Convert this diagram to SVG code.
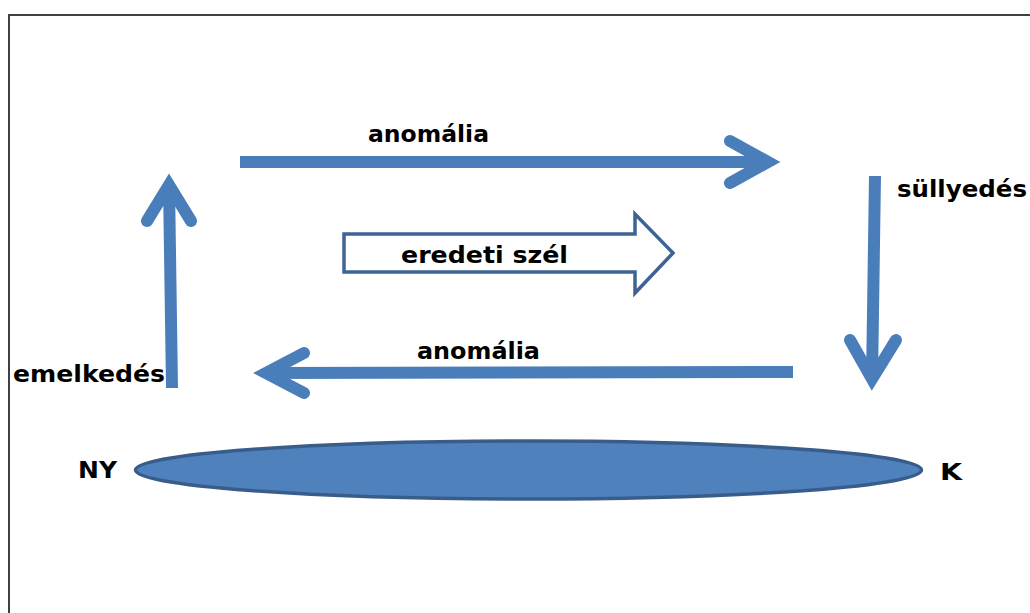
<svg xmlns="http://www.w3.org/2000/svg" width="1030" height="613" viewBox="0 0 1030 613">
<style>
.lbl{font-family:"DejaVu Sans",Verdana,sans-serif;font-weight:bold;font-size:23px;fill:#000}
.shaft{stroke:#4a7ebb;stroke-width:12;fill:none;stroke-linecap:butt}
.head{stroke:#4a7ebb;stroke-width:12;fill:none;stroke-linecap:round;stroke-linejoin:miter;stroke-miterlimit:10}
</style>
<rect width="1030" height="613" fill="#fff"/>
<rect x="9" y="15" width="1040" height="620" fill="none" stroke="#404040" stroke-width="2"/>
<g id="connectors">
  <g id="top-arrow">
    <line class="shaft" x1="240" y1="162" x2="768" y2="162"/>
    <polyline class="head" points="730,141 768,162 730,183"/>
  </g>
  <g id="right-arrow">
    <line class="shaft" x1="875" y1="176" x2="872" y2="380"/>
    <polyline class="head" points="850,340 872,379 896,340"/>
  </g>
  <g id="bottom-arrow">
    <line class="shaft" x1="793" y1="372" x2="266" y2="373"/>
    <polyline class="head" points="304,353 266,373 304,393"/>
  </g>
  <g id="left-arrow">
    <line class="shaft" x1="172" y1="388" x2="169" y2="185"/>
    <polyline class="head" points="147,221 169,185 191,221"/>
  </g>
</g>
<g id="eredeti-szel">
  <path d="M344,234 H635 V214 L673,253 L635,293 V272 H344 Z" fill="#fff" stroke="#3d6494" stroke-width="3.5" stroke-linejoin="miter"/>
  <text class="lbl" x="401" y="263" textLength="167" lengthAdjust="spacingAndGlyphs">eredeti szél</text>
</g>
<g id="surface">
  <ellipse cx="528.5" cy="470" rx="393" ry="29" fill="#4f81bd" stroke="#385d8a" stroke-width="3.5"/>
</g>
<g id="labels">
  <text class="lbl" x="368" y="142" textLength="121" lengthAdjust="spacingAndGlyphs">anomália</text>
  <text class="lbl" x="417" y="359" textLength="123" lengthAdjust="spacingAndGlyphs">anomália</text>
  <text class="lbl" x="897" y="197" textLength="130" lengthAdjust="spacingAndGlyphs">süllyedés</text>
  <text class="lbl" x="13" y="382" textLength="152" lengthAdjust="spacingAndGlyphs">emelkedés</text>
  <text class="lbl" x="78" y="478" textLength="39" lengthAdjust="spacingAndGlyphs">NY</text>
  <text class="lbl" x="940" y="480" textLength="22" lengthAdjust="spacingAndGlyphs">K</text>
</g>
</svg>
